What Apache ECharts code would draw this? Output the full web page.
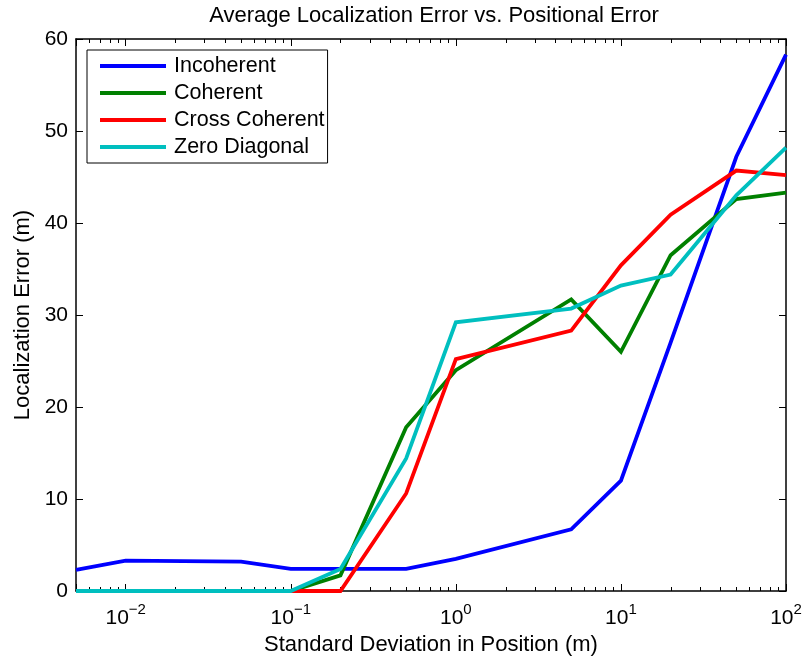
<!DOCTYPE html>
<html>
<head>
<meta charset="utf-8">
<script src="https://cdn.jsdelivr.net/npm/echarts@6/dist/echarts.min.js"></script>
<style>
  html, body { margin: 0; padding: 0; background: #fff; }
  #chart { width: 807px; height: 662px; }
</style>
</head>
<body>
<div id="chart"></div>
<script>
// Standard deviation of the position perturbation (m)
const sigma = [0.005, 0.01, 0.05, 0.1, 0.2, 0.5, 1, 5, 10, 20, 50, 100];

// Average localization error (m) per beamformer variant
const incoherent    = [2.3, 3.3, 3.2, 2.4, 2.4, 2.4, 3.5, 6.7, 12.0, 27.0, 47.2, 58.3];
const coherent      = [0, 0, 0, 0, 1.7, 17.8, 24.0, 31.7, 26.0, 36.5, 42.6, 43.3];
const crossCoherent = [0, 0, 0, 0, 0, 10.6, 25.2, 28.3, 35.4, 40.9, 45.7, 45.2];
const zeroDiagonal  = [0, 0, 0, 0, 2.4, 14.4, 29.2, 30.7, 33.2, 34.4, 43.0, 48.2];

const seriesNames  = ['Incoherent', 'Coherent', 'Cross Coherent', 'Zero Diagonal'];
const seriesValues = [incoherent, coherent, crossCoherent, zeroDiagonal];
const seriesColors = ['#0000ff', '#008000', '#ff0000', '#00bfbf'];

// Axis ranges and ticks
const xMin = 0.005, xMax = 100;
const yMin = 0, yMax = 60, yStep = 10;
const minorMultipliers = [2, 3, 4, 5, 6, 7, 8, 9];
const decades = [-3, -2, -1, 0, 1];

const FONT = "'Liberation Sans', Arial, Helvetica, sans-serif";

// minor log-axis tick positions (data units)
const minorTicks = [];
decades.forEach(d => minorMultipliers.forEach(m => {
  const v = +(m * Math.pow(10, d)).toPrecision(6);
  if (v > xMin && v < xMax) minorTicks.push(v);
}));

function powerLabel(v) {
  const lg = Math.log10(v);
  const e = Math.round(lg);
  if (Math.abs(lg - e) > 1e-6) return '';
  return '{b|10}{s|' + (e < 0 ? '\u2212' + (-e) : String(e)) + '}';
}

const chart = echarts.init(document.getElementById('chart'), null, { renderer: 'canvas' });

const axisLineStyle = { color: '#000', width: 1.5 };

const majorX = (pos, withLabels) => ({
  type: 'log',
  logBase: 10,
  position: pos,
  min: xMin,
  max: xMax,
  axisLine: { show: true, onZero: false, lineStyle: axisLineStyle },
  axisTick: { show: true, inside: true, length: 7, lineStyle: { color: '#000', width: 1 } },
  splitLine: { show: false },
  minorTick: { show: false },
  axisLabel: withLabels ? {
    show: true,
    margin: 14,
    formatter: powerLabel,
    color: '#000',
    rich: {
      b: { fontFamily: FONT, fontSize: 21, lineHeight: 21, color: '#000', padding: [6, 0, 0, 0] },
      s: { fontFamily: FONT, fontSize: 15, lineHeight: 15, color: '#000', padding: [0, 0, 12, 0] }
    }
  } : { show: false },
  name: withLabels ? 'Standard Deviation in Position (m)' : '',
  nameLocation: 'middle',
  nameGap: 43,
  nameTextStyle: { fontFamily: FONT, fontSize: 22, color: '#000' }
});

const yAxisDef = (pos, withLabels) => ({
  type: 'value',
  position: pos,
  min: yMin,
  max: yMax,
  interval: yStep,
  axisLine: { show: true, onZero: false, lineStyle: axisLineStyle },
  axisTick: { show: true, inside: true, length: 7, lineStyle: { color: '#000', width: 1 } },
  splitLine: { show: false },
  axisLabel: withLabels ? { show: true, margin: 8, fontFamily: FONT, fontSize: 21, color: '#000' } : { show: false },
  name: withLabels ? 'Localization Error (m)' : '',
  nameLocation: 'middle',
  nameGap: 41,
  nameTextStyle: { fontFamily: FONT, fontSize: 22, color: '#000' }
});

// short inward ticks at the minor log positions, on both bottom and top edges
function renderMinorTick(params, api) {
  const v = api.value(0);
  const pb = api.coord([v, yMin]);
  const pt = api.coord([v, yMax]);
  const x = Math.round(pb[0]) + 0.5;
  const st = { stroke: '#000', lineWidth: 1 };
  return {
    type: 'group',
    children: [
      { type: 'line', shape: { x1: x, y1: pb[1], x2: x, y2: pb[1] - 4 }, style: st },
      { type: 'line', shape: { x1: x, y1: pt[1], x2: x, y2: pt[1] + 4 }, style: st }
    ]
  };
}

const lineSeries = seriesNames.map((name, i) => ({
  name: name,
  type: 'line',
  xAxisIndex: 0,
  yAxisIndex: 0,
  data: sigma.map((s, j) => [s, seriesValues[i][j]]),
  showSymbol: false,
  symbol: 'none',
  clip: false,
  z: 3,
  lineStyle: { color: seriesColors[i], width: 3.8, join: 'miter' },
  itemStyle: { color: seriesColors[i] },
  emphasis: { disabled: true }
}));

const option = {
  backgroundColor: '#fff',
  animation: false,
  grid: { left: 76, right: 21, top: 39, bottom: 71, containLabel: false, outerBoundsMode: 'none' },
  graphic: [{
    type: 'text',
    x: 434,
    y: 16,
    style: {
      text: 'Average Localization Error vs. Positional Error',
      font: '22px ' + FONT,
      fill: '#000',
      align: 'center',
      verticalAlign: 'middle'
    }
  }],
  legend: {
    orient: 'vertical',
    left: 87,
    top: 50,
    data: seriesNames,
    icon: 'rect',
    itemWidth: 66,
    itemHeight: 4,
    itemGap: 5,
    padding: [5, 3, 5, 13],
    backgroundColor: '#fff',
    borderColor: '#000',
    borderWidth: 1,
    borderRadius: 0,
    z: 10,
    textStyle: { fontFamily: FONT, fontSize: 21.5, lineHeight: 22, color: '#000', padding: [0, 0, 0, 3] },
    selectedMode: false
  },
  xAxis: [majorX('bottom', true), majorX('top', false)],
  yAxis: [yAxisDef('left', true), yAxisDef('right', false)],
  series: [{
    type: 'custom',
    xAxisIndex: 0,
    yAxisIndex: 0,
    data: minorTicks.map(v => [v]),
    renderItem: renderMinorTick,
    silent: true,
    clip: false,
    z: 1
  }].concat(lineSeries)
};

chart.setOption(option);
</script>
</body>
</html>
